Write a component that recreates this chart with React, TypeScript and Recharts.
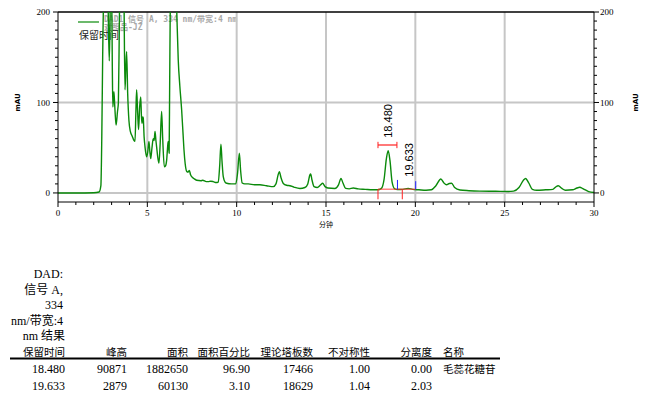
import React from "react";
import { LineChart, Line, XAxis, YAxis, ReferenceLine, ReferenceDot } from "recharts";

// retention time (min) and absorbance (mAU)
const times = [
  0, 1, 2, 2.3, 2.4, 2.45, 2.5, 2.57, 2.7, 2.8, 2.87, 2.93, 3.0, 3.04, 3.07, 3.13, 3.18, 3.25, 3.33,
  3.38, 3.43, 3.47, 3.6, 3.69, 3.75, 3.8, 3.84, 3.9, 3.97, 4.05, 4.15, 4.25, 4.31, 4.36, 4.4, 4.46,
  4.51, 4.57, 4.63, 4.67, 4.7, 4.74, 4.77, 4.82, 4.87, 4.96, 5.02, 5.09, 5.14, 5.19, 5.26, 5.33,
  5.38, 5.43, 5.48, 5.52, 5.58, 5.65, 5.72, 5.8, 5.86, 5.95, 6.02, 6.08, 6.14, 6.17, 6.22, 6.25,
  6.29, 6.4, 6.55, 6.64, 6.73, 6.82, 6.92, 7.0, 7.05, 7.12, 7.2, 7.28, 7.35, 7.42, 7.48, 7.6, 7.76,
  8.0, 8.1, 8.3, 8.41, 8.55, 8.69, 8.85, 8.97, 9.05, 9.12, 9.18, 9.25, 9.35, 9.44, 9.7, 9.95,
  10.05, 10.15, 10.22, 10.31, 10.45, 10.65, 11.0, 11.3, 11.67, 12.05, 12.2, 12.32, 12.39, 12.48,
  12.61, 12.8, 12.98, 13.2, 13.54, 13.82, 13.98, 14.1, 14.14, 14.22, 14.33, 14.51, 14.7, 14.81,
  14.95, 15.1, 15.5, 15.7, 15.84, 15.95, 16.1, 16.3, 16.53, 16.8, 17.2, 17.6, 17.9, 18.1, 18.25,
  18.38, 18.48, 18.58, 18.7, 18.85, 19.0, 19.3, 19.6, 19.85, 20.2, 20.6, 20.9, 21.15, 21.43, 21.6,
  21.75, 21.9, 22.03, 22.2, 22.5, 23.0, 23.6, 24.5, 25.2, 25.5, 25.8, 26.05, 26.17, 26.35, 26.55,
  26.8, 27.3, 27.7, 27.85, 28.0, 28.2, 28.4, 28.8, 29.05, 29.2, 29.4, 29.7, 30.0,
];
const mau = [
  0, 0, 0.2, 1, 8, 60, 150, 230, 260, 210, 146, 210, 230, 140, 95, 112, 95, 75, 90,
  100, 180, 240, 280, 220, 114, 140, 156, 110, 80, 68, 63, 58, 57, 90, 114, 88,
  70, 95, 106, 85, 77, 84, 83, 62, 51, 40, 45, 57, 46, 38, 50, 60,
  58, 68, 58, 51, 40, 33, 55, 90, 60, 29, 30, 36, 52, 57, 44, 120,
  220, 300, 260, 205, 147, 118, 92, 65, 48, 32, 24, 23, 25, 20, 18, 16, 14,
  13.5, 14, 12.5, 12.5, 13, 12.5, 11.5, 12, 30, 54, 35, 18, 12, 10.7, 10, 10,
  22, 44, 25, 11, 10, 10, 9, 9, 8, 7, 10, 20, 23.5, 17,
  10.5, 8.5, 8, 6.5, 5, 6, 10, 20, 21, 14, 7, 6, 9, 10.7,
  7, 5.5, 5, 9, 16, 11, 5, 4.5, 5.5, 4.5, 4, 3.5, 3.5, 5, 15,
  38, 46.7, 36, 12, 4.5, 3.8, 4, 5, 4, 3.5, 3, 3.5, 8, 15.5, 11,
  9, 10.5, 10.7, 6, 3.3, 2.5, 2, 1.8, 1.6, 2, 6, 14, 16, 11, 4,
  3, 3.5, 4, 6.5, 8, 5, 3, 3.5, 5.5, 6.3, 4.5, 1.5, 0.5,
];
const trace = times.map((t, i) => ({ t, v: mau[i] }));

const xTicks = Array.from({ length: 31 }, (_, i) => i);
const xMajor = [0, 5, 10, 15, 20, 25, 30];
const yTicks = Array.from({ length: 21 }, (_, i) => i * 10);
const yMajor = [0, 100, 200];
const gridX = [5, 10, 15, 20, 25];
const gridY = [0, 100];

// integrated peaks
const peakRt = [18.48, 19.633];
const peakText = ["18.480", "19.633"];
const peakLabelY = [61, 18];

// results table
const headers = ["保留时间", "峰高", "面积", "面积百分比", "理论塔板数", "不对称性", "分离度"];
const rtCol = ["18.480", "19.633"];
const heightCol = ["90871", "2879"];
const areaCol = ["1882650", "60130"];
const pctCol = ["96.90", "3.10"];
const platesCol = ["17466", "18629"];
const asymCol = ["1.00", "1.04"];
const resCol = ["0.00", "2.03"];
const nameCol = ["毛蕊花糖苷", ""];
const titleLines = ["DAD:", "信号 A,", "334", "nm/带宽:4", "nm 结果"];

const SERIF = '"Liberation Serif", "Times New Roman", Times, "Noto Sans CJK SC", serif';
const CJK = '"Noto Sans CJK SC", sans-serif';
const GREEN = "#0b8a0b";
const GRID = "#c6c6c6";

function XTick(props: any) {
  const { x, y, payload } = props;
  const major = xMajor.includes(payload.value);
  return (
    <g>
      <line x1={x} x2={x} y1={y} y2={y + (major ? 5 : 3)} stroke="#000" />
      {major && (
        <text x={x} y={y + 11} dy="0.35em" textAnchor="middle" fontSize={9} fontFamily={SERIF} fill="#000">
          {payload.value}
        </text>
      )}
      {payload.value === 15 && (
        <text x={x} y={y + 23} dy="0.35em" textAnchor="middle" fontSize={7} fontFamily={CJK} fill="#000">
          分钟
        </text>
      )}
    </g>
  );
}

function LeftTick(props: any) {
  const { x, y, payload } = props;
  const major = yMajor.includes(payload.value);
  return (
    <g>
      <line x1={x} x2={x - (major ? 5 : 3)} y1={y} y2={y} stroke="#000" />
      {major && (
        <text x={x - 8} y={y} dy="0.35em" textAnchor="end" fontSize={9} fontFamily={SERIF} fill="#000">
          {payload.value}
        </text>
      )}
      {payload.value === 100 && (
        <text transform={`rotate(-90 ${x - 40} ${y})`} x={x - 40} y={y} dy="0.35em" textAnchor="middle" fontSize={7} fontWeight="bold" fontFamily="'DejaVu Sans'" fill="#000">
          mAU
        </text>
      )}
    </g>
  );
}

function RightTick(props: any) {
  const { x, y, payload } = props;
  const major = yMajor.includes(payload.value);
  return (
    <g>
      <line x1={x} x2={x + (major ? 5 : 3)} y1={y} y2={y} stroke="#000" />
      {major && (
        <text x={x + 6} y={y} dy="0.35em" textAnchor="start" fontSize={9} fontFamily={SERIF} fill="#000">
          {payload.value}
        </text>
      )}
      {payload.value === 100 && (
        <text transform={`rotate(-90 ${x + 42} ${y})`} x={x + 42} y={y} dy="0.35em" textAnchor="middle" fontSize={7} fontWeight="bold" fontFamily="'DejaVu Sans'" fill="#000">
          mAU
        </text>
      )}
    </g>
  );
}

function PeakLabel(text: string) {
  return (props: any) => (
    <text
      transform={`rotate(-90 ${props.cx} ${props.cy})`}
      x={props.cx}
      y={props.cy}
      dy="0.35em"
      textAnchor="start"
      fontSize={11}
      fontFamily="'Liberation Sans', Arial, sans-serif"
      fill="#000"
    >
      {text}
    </text>
  );
}

const colRight = [65, 127, 188, 250, 313, 370, 432];

export default function App() {
  const rows = rtCol.map((_, i) => [rtCol[i], heightCol[i], areaCol[i], pctCol[i], platesCol[i], asymCol[i], resCol[i]]);
  return (
    <div style={{ position: "absolute", left: 0, top: 0, width: 669, height: 397, background: "#fff" }}>
      {/* legend text behind the trace */}
      <svg width={669} height={60} style={{ position: "absolute", left: 0, top: 0 }}>
        <line x1={78} x2={99} y1={22} y2={22} stroke={GREEN} strokeWidth={1.2} />
        <text x={104} y={19} dy="0.35em" fontSize={8} fontWeight="bold" fill="#a8a8a8" fontFamily="'DejaVu Sans Mono', 'Noto Sans CJK SC'">
          DAD1 信号 A, 334 nm/带宽:4 nm
        </text>
        <text x={104} y={27} dy="0.35em" fontSize={8} fontWeight="bold" fill="#a8a8a8" fontFamily="'DejaVu Sans Mono', 'Noto Sans CJK SC'">
          对照品-JZ
        </text>
        <text x={79} y={35} dy="0.35em" fontSize={10} fill="#222" fontFamily={CJK}>
          保留时间
        </text>
      </svg>
      <div style={{ position: "absolute", left: 0, top: 0 }}>
        <LineChart width={669} height={235} data={trace} margin={{ top: 12, right: 0, left: 0, bottom: 0 }}>
          <XAxis
            dataKey="t"
            type="number"
            domain={[0, 30]}
            ticks={xTicks}
            interval={0}
            height={33}
            tickSize={0}
            tickMargin={0}
            tickLine={false}
            axisLine={{ stroke: "#000" }}
            tick={<XTick />}
          />
          <YAxis
            yAxisId="left"
            type="number"
            domain={[-10, 200]}
            allowDataOverflow
            ticks={yTicks}
            interval={0}
            width={58}
            tickSize={0}
            tickMargin={0}
            tickLine={false}
            axisLine={{ stroke: "#000" }}
            tick={<LeftTick />}
          />
          <YAxis
            yAxisId="right"
            orientation="right"
            type="number"
            domain={[-10, 200]}
            allowDataOverflow
            ticks={yTicks}
            interval={0}
            width={75}
            tickSize={0}
            tickMargin={0}
            tickLine={false}
            axisLine={{ stroke: "#000" }}
            tick={<RightTick />}
          />
          {gridX.map((g) => (
            <ReferenceLine key={"gx" + g} x={g} yAxisId="left" stroke={GRID} strokeWidth={2} />
          ))}
          {gridY.map((g) => (
            <ReferenceLine key={"gy" + g} y={g} yAxisId="left" stroke={GRID} strokeWidth={2} />
          ))}
          <ReferenceLine y={200} yAxisId="left" stroke="#000" strokeWidth={1.5} />
          <Line
            yAxisId="left"
            dataKey="v"
            type="monotone"
            stroke={GREEN}
            strokeWidth={1.4}
            dot={false}
            isAnimationActive={false}
          />
          {/* integration marks */}
          <ReferenceLine yAxisId="left" segment={[{ x: 17.91, y: 4 }, { x: 20.02, y: 4 }]} stroke="#ff3030" strokeOpacity={0.6} strokeWidth={1.5} />
          <ReferenceLine yAxisId="left" segment={[{ x: 17.91, y: 4 }, { x: 17.91, y: -7 }]} stroke="#ff2020" />
          <ReferenceLine yAxisId="left" segment={[{ x: 19.27, y: 4 }, { x: 19.27, y: -7 }]} stroke="#ff2020" />
          <ReferenceLine yAxisId="left" segment={[{ x: 19.0, y: 14.4 }, { x: 19.0, y: 4 }]} stroke="#2020ff" />
          <ReferenceLine yAxisId="left" segment={[{ x: 20.02, y: 13 }, { x: 20.02, y: 4 }]} stroke="#2020ff" />
          <ReferenceLine yAxisId="left" segment={[{ x: 17.91, y: 53 }, { x: 18.97, y: 53 }]} stroke="#ff2020" strokeWidth={1.2} />
          <ReferenceLine yAxisId="left" segment={[{ x: 17.91, y: 49.5 }, { x: 17.91, y: 56.5 }]} stroke="#ff2020" />
          <ReferenceLine yAxisId="left" segment={[{ x: 18.97, y: 49.5 }, { x: 18.97, y: 56.5 }]} stroke="#ff2020" />
          {peakRt.map((rt, i) => (
            <ReferenceDot key={"pk" + i} yAxisId="left" x={rt} y={peakLabelY[i]} r={0} shape={PeakLabel(peakText[i])} />
          ))}
        </LineChart>
      </div>
      {/* results table */}
      <svg width={669} height={397} style={{ position: "absolute", left: 0, top: 0, pointerEvents: "none" }}>
        {titleLines.map((s, i) => (
          <text key={"t" + i} x={i === 4 ? 65 : 63} y={278 + i * 15.5} textAnchor="end" fontSize={12} fontFamily={SERIF} fill="#000">
            {s}
          </text>
        ))}
        {headers.map((h, i) => (
          <text key={"h" + i} x={colRight[i]} y={356} textAnchor="end" fontSize={10.5} fontFamily={CJK} fill="#000">
            {h}
          </text>
        ))}
        <text x={443} y={356} textAnchor="start" fontSize={10.5} fontFamily={CJK} fill="#000">
          名称
        </text>
        <line x1={10} x2={500} y1={358.5} y2={358.5} stroke="#000" strokeWidth={2} />
        {rows.map((r, ri) => (
          <g key={"r" + ri}>
            {r.map((c, ci) => (
              <text key={ci} x={colRight[ci]} y={373 + ri * 17} textAnchor="end" fontSize={12} fontFamily={SERIF} fill="#000">
                {c}
              </text>
            ))}
            <text x={443} y={373 + ri * 17} textAnchor="start" fontSize={10.5} fontFamily={CJK} fill="#000">
              {nameCol[ri]}
            </text>
          </g>
        ))}
      </svg>
    </div>
  );
}
